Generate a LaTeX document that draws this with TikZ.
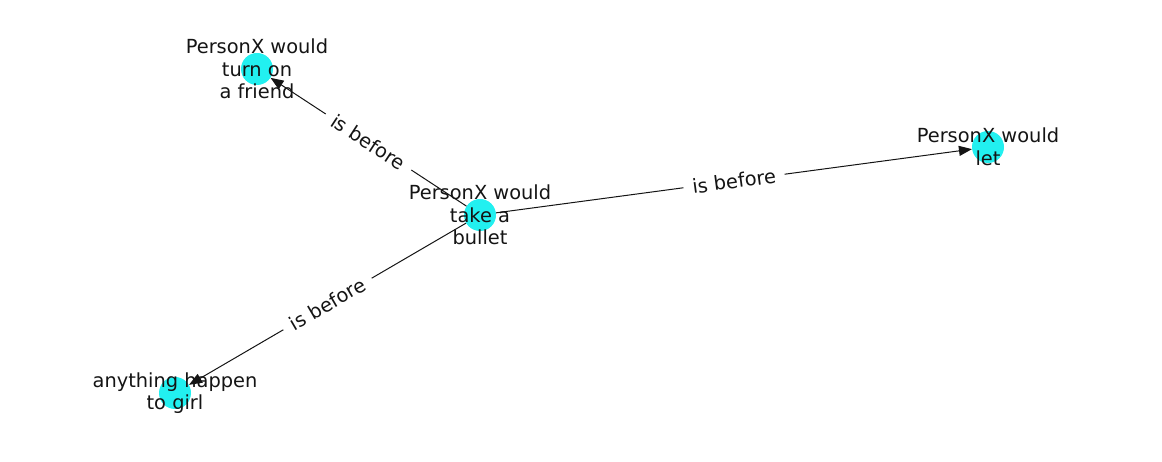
\documentclass[tikz,border=0pt]{standalone}
\usepackage{fontspec}
\setmainfont{DejaVu Sans}
\usepackage{tikz}
\usetikzlibrary{arrows.meta}
\definecolor{NodeCyan}{HTML}{22F0F0}
\definecolor{EdgeInk}{HTML}{141414}

\begin{document}
\begin{tikzpicture}[x=1bp,y=1bp,>={Triangle[length=13bp,width=10bp]}]
  \tikzstyle{dot}=[circle,fill=NodeCyan,minimum size=32bp,inner sep=0pt]
  \tikzstyle{word}=[align=center,inner sep=0pt,text=EdgeInk,
    font=\fontsize{19.4bp}{22.6bp}\selectfont]
  \tikzstyle{rel}=[fill=white,inner xsep=9bp,inner ysep=3bp,sloped,text=EdgeInk,
    font=\fontsize{19.4bp}{22.6bp}\selectfont]
  \useasboundingbox (0,0) rectangle (1162,462);
  \node[dot] (c1) at (480,247) {};
  \node[dot] (c2) at (257,393) {};
  \node[dot] (c3) at (988,315) {};
  \node[dot] (c4) at (175,69) {};
  \draw[->,EdgeInk,line width=1bp] (c1)--(c2) node[rel,pos=0.5] {is before};
  \draw[->,EdgeInk,line width=1bp] (c1)--(c3) node[rel,pos=0.5] {is before};
  \draw[->,EdgeInk,line width=1bp] (c1)--(c4) node[rel,pos=0.5] {is before};
  \node[word] (l1) at (c1) {PersonX would\\take a\\bullet};
  \node[word] (l2) at (c2) {PersonX would\\turn on\\a friend};
  \node[word] (l3) at (c3) {PersonX would\\let};
  \node[word] (l4) at (c4) {anything happen\\to girl};
\end{tikzpicture}
\end{document}
